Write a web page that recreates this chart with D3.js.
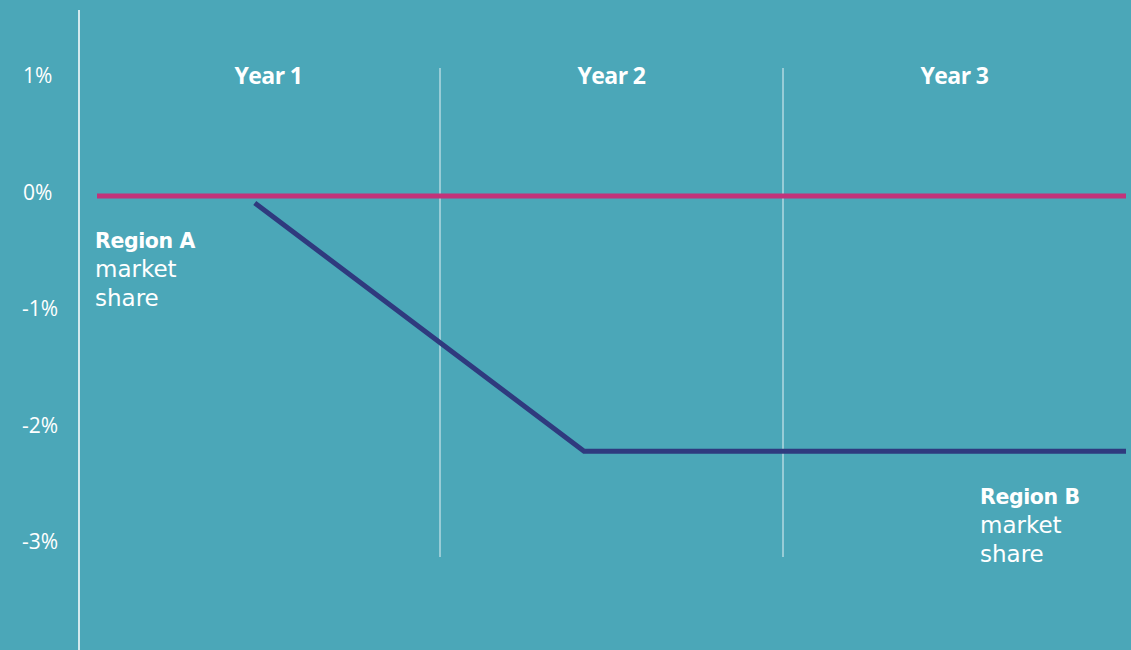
<!DOCTYPE html>
<html>
<head>
<meta charset="utf-8">
<script src="https://cdn.jsdelivr.net/npm/d3@7"></script>
<style>
  body { margin: 0; background: #4ba7b8; }
  svg { display: block; font-family: "Open Sans", "Noto Sans", sans-serif; }
</style>
</head>
<body>
<svg></svg>
<script>
// data
const years = ["Year 1", "Year 2", "Year 3"]
const yTicks = [1, 0, -1, -2, -3]
const regionA = [ {t: 0, v: -0.03}, {t: 3, v: -0.03} ]
const regionB = [ {t: 0.46, v: -0.09}, {t: 1.42, v: -2.22}, {t: 3, v: -2.22} ]
const labelA = ["Region A", "market", "share"]
const labelB = ["Region B", "market", "share"]

const width = 1131, height = 650

const svg = d3.select("svg")
  .attr("width", width)
  .attr("height", height)
  .style("background", "#4ba7b8")

const x = d3.scaleLinear().domain([0, 3]).range([97, 1126])
const y = d3.scaleLinear().domain([1, -3]).range([76, 542])

// left axis line
svg.append("line")
  .attr("x1", 79).attr("x2", 79)
  .attr("y1", 10).attr("y2", height)
  .attr("stroke", "#ffffff")
  .attr("stroke-width", 1.5)

// year dividers
svg.selectAll(".divider")
  .data([1, 2]).enter()
  .append("line")
  .attr("x1", d => x(d)).attr("x2", d => x(d))
  .attr("y1", 68).attr("y2", 557)
  .attr("stroke", "#ffffff")
  .attr("stroke-opacity", 0.85)
  .attr("stroke-width", 1)

// y tick labels
svg.selectAll(".ytick")
  .data(yTicks).enter()
  .append("text")
  .attr("x", d => d < 0 ? 22 : 23)
  .attr("y", d => y(d))
  .attr("dy", "0.35em")
  .attr("fill", "#ffffff")
  .attr("font-size", "21px")
  .text(d => d + "%")

// year labels
svg.selectAll(".year")
  .data(years).enter()
  .append("text")
  .attr("x", (d, i) => x(i + 0.5))
  .attr("y", 84)
  .attr("text-anchor", "middle")
  .attr("fill", "#ffffff")
  .attr("font-size", "23px")
  .attr("font-weight", "bold")
  .attr("letter-spacing", "-0.6px")
  .text(d => d)

const line = d3.line().x(d => x(d.t)).y(d => y(d.v))

svg.append("path")
  .datum(regionA)
  .attr("d", line)
  .attr("fill", "none")
  .attr("stroke", "#c2337a")
  .attr("stroke-width", 5)

svg.append("path")
  .datum(regionB)
  .attr("d", line)
  .attr("fill", "none")
  .attr("stroke", "#2f3a7e")
  .attr("stroke-width", 5)

function regionLabel(lines, px, py) {
  svg.append("g")
    .style("font-family", "'DejaVu Sans', sans-serif")
    .selectAll("text")
    .data(lines).enter()
    .append("text")
    .attr("x", px)
    .attr("y", (d, i) => py + i * 29)
    .attr("fill", "#ffffff")
    .attr("font-size", (d, i) => i == 0 ? "20.5px" : "23px")
    .attr("font-weight", (d, i) => i == 0 ? "bold" : "normal")
    .attr("letter-spacing", (d, i) => i == 0 ? "-0.4px" : "0px")
    .text(d => d)
}

regionLabel(labelA, 95, 248)
regionLabel(labelB, 980, 504)
</script>
</body>
</html>
